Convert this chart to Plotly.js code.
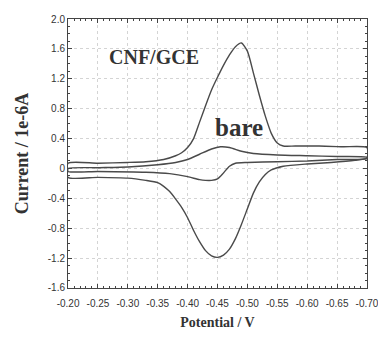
<!DOCTYPE html>
<html>
<head>
<meta charset="utf-8">
<script src="https://cdn.plot.ly/plotly-3.0.1.min.js"></script>
<style>html,body{margin:0;padding:0;background:#fff;}#chart{width:378px;height:339px;}</style>
</head>
<body>
<div id="chart"></div>
<script>
// CNF/GCE cyclic voltammogram: forward (upper) branch then reverse (lower) branch
const cnfPotential = [-0.20,-0.25,-0.30,-0.33,-0.36,-0.38,-0.39,-0.40,-0.41,-0.42,-0.43,-0.44,-0.45,-0.46,-0.47,-0.48,-0.49,-0.50,-0.51,-0.52,-0.53,-0.54,-0.55,-0.56,-0.58,-0.62,-0.66,-0.70,
  -0.70,-0.68,-0.64,-0.60,-0.56,-0.54,-0.53,-0.52,-0.51,-0.50,-0.49,-0.48,-0.47,-0.46,-0.45,-0.44,-0.43,-0.42,-0.41,-0.40,-0.39,-0.38,-0.37,-0.36,-0.35,-0.33,-0.30,-0.25,-0.20,-0.20];
const cnfCurrent = [0.07,0.07,0.08,0.09,0.12,0.17,0.21,0.28,0.40,0.62,0.84,1.05,1.22,1.38,1.52,1.63,1.68,1.57,1.28,0.98,0.70,0.47,0.34,0.30,0.30,0.30,0.29,0.28,
  0.14,0.11,0.08,0.06,0.03,-0.02,-0.08,-0.18,-0.33,-0.54,-0.75,-0.94,-1.08,-1.16,-1.19,-1.17,-1.10,-0.98,-0.83,-0.66,-0.52,-0.41,-0.31,-0.24,-0.19,-0.16,-0.13,-0.12,-0.12,0.07];

// Bare electrode cyclic voltammogram
const barePotential = [-0.20,-0.25,-0.30,-0.35,-0.38,-0.40,-0.42,-0.44,-0.455,-0.47,-0.49,-0.51,-0.55,-0.60,-0.65,-0.70,
  -0.70,-0.65,-0.60,-0.55,-0.50,-0.48,-0.47,-0.46,-0.45,-0.44,-0.43,-0.42,-0.40,-0.37,-0.33,-0.25,-0.20,-0.20];
const bareCurrent = [0.00,0.01,0.02,0.05,0.08,0.12,0.19,0.26,0.29,0.28,0.23,0.20,0.18,0.17,0.16,0.15,
  0.13,0.12,0.10,0.09,0.08,0.07,0.03,-0.06,-0.14,-0.16,-0.16,-0.15,-0.11,-0.07,-0.05,-0.04,-0.04,0.00];

const xTickVals = [-0.20,-0.25,-0.30,-0.35,-0.40,-0.45,-0.50,-0.55,-0.60,-0.65,-0.70];
const xTickText = ["-0.20","-0.25","-0.30","-0.35","-0.40","-0.45","-0.50","-0.55","-0.60","-0.65","-0.70"];
const yTickVals = [2.0,1.6,1.2,0.8,0.4,0,-0.4,-0.8,-1.2,-1.6];
const yTickText = ["2.0","1.6","1.2","0.8","0.4","0","-0.4","-0.8","-1.2","-1.6"];

const labels = [
  {text: "CNF/GCE", x: -0.265, y: 1.49, size: 20},
  {text: "bare", x: -0.442, y: 0.55, size: 25}
];

const lineStyle = {color: "#4a4a4a", width: 1.4, shape: "spline", smoothing: 0.6};
const traces = [
  {x: cnfPotential, y: cnfCurrent, mode: "lines", line: lineStyle, name: "CNF/GCE"},
  {x: barePotential, y: bareCurrent, mode: "lines", line: lineStyle, name: "bare"}
];

const tickFont = {family: "'Liberation Sans Narrow','Arial Narrow','Liberation Sans',sans-serif", size: 10, color: "#333"};
const titleFont = {family: "'Liberation Serif','Times New Roman',serif", color: "#333", weight: "bold"};

const layout = {
  width: 378, height: 339,
  margin: {l: 68, r: 11, t: 19, b: 51},
  paper_bgcolor: "#fff", plot_bgcolor: "#fff",
  showlegend: false,
  xaxis: {
    range: [-0.1999, -0.7001], tickvals: xTickVals, ticktext: xTickText,
    tickfont: tickFont, ticks: "inside", ticklen: 4, tickcolor: "#444",
    ticklabeloverflow: "allow", automargin: false, ticklabelstandoff: 6,
    showline: true, linecolor: "#444", linewidth: 1, mirror: "allticks",
    showgrid: true, gridcolor: "#d4d4d4", griddash: "dot", gridwidth: 1,
    zeroline: false,
    minor: {dtick: 0.01, ticks: "inside", ticklen: 2, tickcolor: "#444", showgrid: false},
    title: {text: "Potential / V", font: Object.assign({size: 14}, titleFont), standoff: 9}
  },
  yaxis: {
    range: [-1.6005, 2.0005], tickvals: yTickVals, ticktext: yTickText,
    tickfont: tickFont, ticks: "inside", ticklen: 4, tickcolor: "#444",
    ticklabeloverflow: "allow", automargin: false,
    showline: true, linecolor: "#444", linewidth: 1, mirror: "allticks",
    showgrid: true, gridcolor: "#d4d4d4", griddash: "dot", gridwidth: 1,
    zeroline: false,
    minor: {dtick: 0.1, ticks: "inside", ticklen: 2, tickcolor: "#444", showgrid: false},
    title: {text: "Current / 1e-6A", font: Object.assign({size: 18}, titleFont), standoff: 14}
  },
  annotations: labels.map(l => ({
    text: l.text, x: l.x, y: l.y, xref: "x", yref: "y",
    xanchor: "left", yanchor: "middle", showarrow: false,
    font: {family: "'Liberation Serif','Times New Roman',serif", size: l.size, color: "#333", weight: "bold"}
  }))
};

Plotly.newPlot("chart", traces, layout, {staticPlot: true, displayModeBar: false});
</script>
</body>
</html>
